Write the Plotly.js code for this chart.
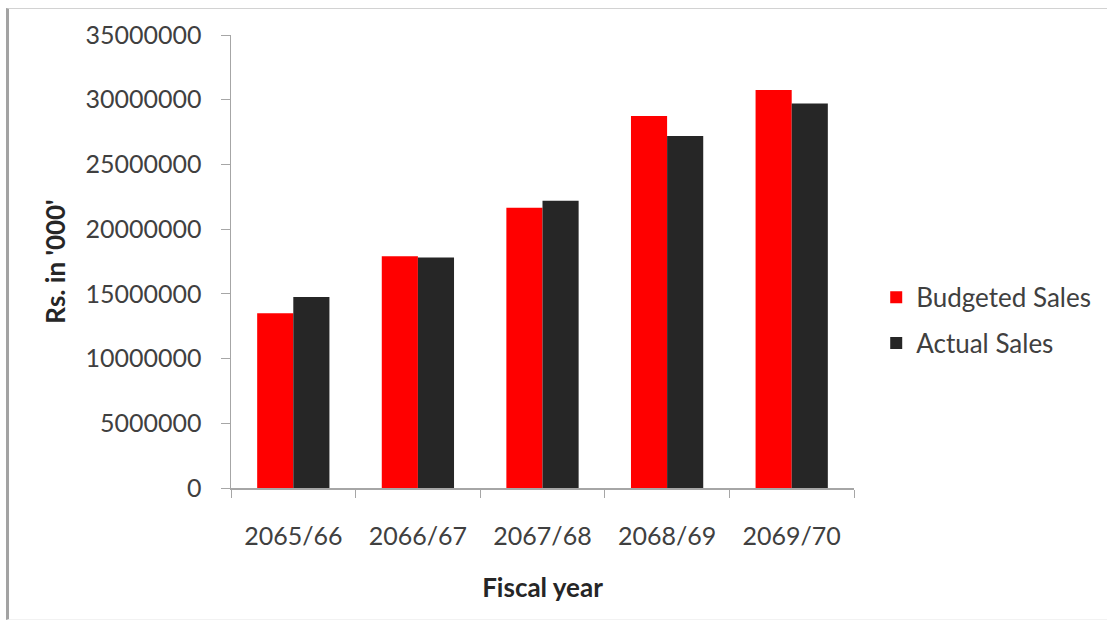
<!DOCTYPE html>
<html>
<head>
<meta charset="utf-8">
<script src="https://cdn.plot.ly/plotly-3.0.1.min.js"></script>
<style>
  html, body { margin: 0; padding: 0; background: #ffffff; }
  #wrap { position: relative; width: 1107px; height: 628px; }
  #chart { position: absolute; left: 0; top: 0; width: 1107px; height: 628px; }
  #frame {
    position: absolute; left: 6px; top: 8px; right: 0; bottom: 8px;
    border-left: 3px solid #a3a3a3; border-top: 1px solid #d2d2d2; border-bottom: 1px solid #f2f2f2;
    pointer-events: none;
  }
</style>
</head>
<body>
<div id="wrap">
  <div id="chart"></div>
  <div id="frame"></div>
</div>
<script>
// Fiscal years on the category axis
const fiscalYears = ['2065/66', '2066/67', '2067/68', '2068/69', '2069/70'];
// Sales figures, Rs. in '000'
const budgetedSales = [13500000, 17900000, 21650000, 28750000, 30750000];
const actualSales = [14750000, 17800000, 22200000, 27200000, 29700000];
const yTickValues = [0, 5000000, 10000000, 15000000, 20000000, 25000000, 30000000, 35000000];

const baseFont = 'Lato, "Open Sans", sans-serif';

const traces = [
  {
    type: 'bar', name: 'Budgeted Sales', x: fiscalYears, y: budgetedSales,
    marker: { color: '#ff0000' }, legendgroup: 'b'
  },
  {
    type: 'bar', name: 'Actual Sales', x: fiscalYears, y: actualSales,
    marker: { color: '#262626' }, legendgroup: 'a'
  }
];

const layout = {
  width: 1107, height: 628,
  margin: { l: 231, r: 252, t: 35, b: 140, pad: 0 },
  paper_bgcolor: 'rgba(0,0,0,0)',
  plot_bgcolor: '#ffffff',
  barmode: 'group',
  bargap: 0.42,
  bargroupgap: 0,
  showlegend: true,
  legend: {
    x: 1.034, y: 0.37, xanchor: 'left', yanchor: 'middle',
    font: { family: baseFont, size: 26, color: '#404040' },
    traceorder: 'grouped', tracegroupgap: 9,
    itemwidth: 30, bgcolor: 'rgba(0,0,0,0)'
  },
  xaxis: {
    type: 'category',
    showline: true, linecolor: '#a6a6a6', linewidth: 1.5,
    ticks: 'outside', tickson: 'boundaries', ticklen: 8, tickcolor: '#a6a6a6',
    ticklabelstandoff: 25,
    tickfont: { family: baseFont, size: 25, color: '#404040' },
    showgrid: false, zeroline: false,
    title: { text: 'Fiscal year', font: { family: baseFont, size: 26, color: '#262626', weight: 'bold' }, standoff: 30 }
  },
  yaxis: {
    range: [0, 35000000],
    tickvals: yTickValues,
    ticktext: yTickValues.map(v => String(v)),
    showline: true, linecolor: '#a6a6a6', linewidth: 1.5,
    ticks: 'outside', ticklen: 9, tickcolor: '#a6a6a6',
    ticklabelstandoff: 14,
    tickfont: { family: baseFont, size: 25, color: '#404040' },
    showgrid: false, zeroline: false,
    title: { text: "Rs. in '000'", font: { family: baseFont, size: 26, color: '#262626', weight: 'bold' }, standoff: 12 }
  }
};

Plotly.newPlot('chart', traces, layout, { displayModeBar: false, staticPlot: true });
</script>
</body>
</html>
